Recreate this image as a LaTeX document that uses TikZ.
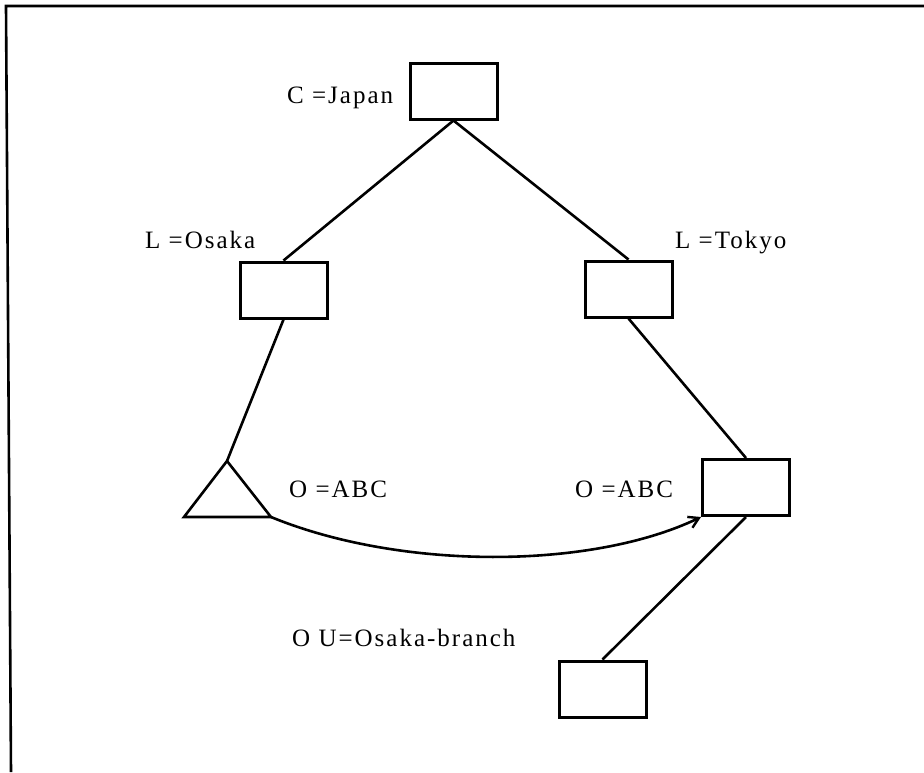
\documentclass[tikz,border=0pt]{standalone}
\usepackage{fontspec}
\setmainfont{Liberation Serif}
\usetikzlibrary{arrows.meta}
\begin{document}
\begin{tikzpicture}[x=1pt,y=-1pt,
  box/.style={draw,line width=3pt,minimum width=87pt,minimum height=56pt,inner sep=0pt},
  conn/.style={line width=2.6pt},
  lbl/.style={font=\fontsize{25}{25}\selectfont\addfontfeature{LetterSpace=8},inner sep=0pt,anchor=base west}]
\useasboundingbox (0,0) rectangle (924,772);
% frame
\draw[line width=2.6pt] (924,6) -- (6,6) -- (11,772);
% boxes
\node[box] (C)  at (453.5,91) {};
\node[box] (LO) at (283.5,290) {};
\node[box] (LT) at (628.5,289) {};
\node[box] (OT) at (746,487.5) {};
\node[box] (OU) at (602.5,689) {};
% triangle
\coordinate (TA) at (227,461);
\coordinate (TL) at (184,517);
\coordinate (TR) at (271,517);
\draw[line width=2.6pt,line join=miter] (TA) -- (TL) -- (TR) -- cycle;
% labels
\node[lbl] (lC)  at (287,103) {C =Japan};
\node[lbl] (lLO) at (145,248) {L =Osaka};
\node[lbl] (lLT) at (675,248) {L =Tokyo};
\node[lbl] (lO1) at (289,497) {O =ABC};
\node[lbl] (lO2) at (575,497) {O =ABC};
\node[lbl] (lOU) at (292,646) {O U=Osaka-branch};
% connectors
\draw[conn] (C.south) -- (LO.north);
\draw[conn] (C.south) -- (LT.north);
\draw[conn] (LO.south) -- (TA);
\draw[conn] (LT.south) -- (OT.north);
\draw[conn] (OT.south) -- (OU.north);
\draw[conn,-{Straight Barb[length=10pt,width=12pt,line width=2.4pt]}] (TR) .. controls (400,570) and (590,570) .. (OT.south west);
\end{tikzpicture}
\end{document}
